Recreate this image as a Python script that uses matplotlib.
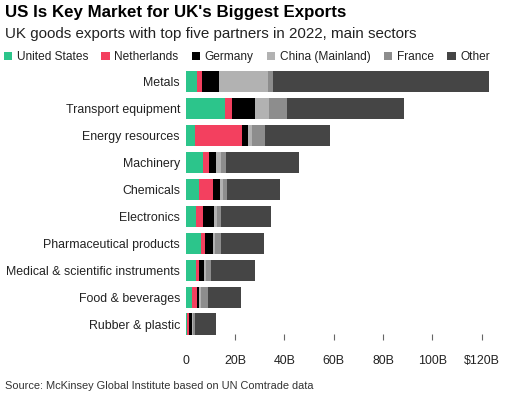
import numpy as np
import matplotlib.pyplot as plt
from matplotlib.patches import Patch

plt.rcParams['font.family'] = ['Liberation Sans', 'DejaVu Sans']

# UK goods exports 2022, billions USD
sectors = ['Metals', 'Transport equipment', 'Energy resources', 'Machinery',
           'Chemicals', 'Electronics', 'Pharmaceutical products',
           'Medical & scientific instruments', 'Food & beverages',
           'Rubber & plastic']
partners = ['United States', 'Netherlands', 'Germany', 'China (Mainland)',
            'France', 'Other']
us = [4.7, 15.9, 3.7, 7.2, 5.6, 4.2, 6.2, 4.1, 2.8, 0.7]
netherlands = [1.9, 3.0, 19.2, 2.3, 5.5, 3.0, 1.8, 1.3, 1.7, 0.8]
germany = [6.9, 9.3, 2.4, 2.9, 2.8, 4.3, 3.1, 2.2, 0.9, 1.1]
china = [19.9, 5.8, 1.8, 1.8, 1.1, 1.1, 0.9, 0.7, 1.0, 0.4]
france = [2.0, 7.2, 5.1, 2.3, 2.0, 1.8, 2.2, 2.0, 2.7, 1.0]
other = [87.6, 47.3, 26.5, 29.5, 21.1, 20.3, 17.4, 18.0, 13.4, 8.4]
xticks = [0, 20, 40, 60, 80, 100, 120]
xticklabels = ['0', '20B', '40B', '60B', '80B', '100B', '$120B']

colors = ['#2cc58b', '#f3405f', '#000000', '#b2b2b2', '#8d8d8d', '#454545']
series = [us, netherlands, germany, china, france, other]

fig = plt.figure(figsize=(5.31, 4.0), dpi=100)
ax = fig.add_axes([185.5 / 531, 0.15, 308.0 / 531, 0.686])

y = np.arange(len(sectors))
left = np.zeros(len(sectors))
for vals, c in zip(series, colors):
    ax.barh(y, vals, left=left, height=0.79, color=c)
    left += np.array(vals)

ax.set_xlim(0, 124.7)
ax.set_ylim(9.59, -0.6)
ax.set_yticks(y)
ax.set_yticklabels(sectors, fontsize=8.9, color='#222222')
ax.set_xticks(xticks)
ax.set_xticklabels(xticklabels, fontsize=8.9, color='#222222', va='baseline')
ax.tick_params(axis='y', length=0, pad=4)
ax.tick_params(axis='x', direction='in', length=4.5, width=0.8,
               color='#666666', pad=17)
ax.xaxis.get_major_ticks()[0].tick1line.set_visible(False)
for s in ax.spines.values():
    s.set_visible(False)

fig.text(5 / 531, 1 - 13 / 400, "US Is Key Market for UK's Biggest Exports",
         fontsize=12.2, fontweight='bold', va='center', ha='left')
fig.text(5 / 531, 1 - 34 / 400,
         'UK goods exports with top five partners in 2022, main sectors',
         fontsize=10.9, va='center', ha='left', color='#222222')

handles = [Patch(facecolor=c, edgecolor='none') for c in colors]
fig.legend(handles, partners, loc='center left',
           bbox_to_anchor=(0.0, 1 - 57 / 400), ncol=6, frameon=False,
           fontsize=8.6, handlelength=0.7, handleheight=0.7,
           handletextpad=0.4, columnspacing=1.1, borderaxespad=0,
           borderpad=0.3, labelcolor='#222222')

fig.text(5 / 531, 1 - 386 / 400,
         'Source: McKinsey Global Institute based on UN Comtrade data',
         fontsize=7.9, va='center', ha='left', color='#333333')

fig.savefig('out.png', dpi=100)
